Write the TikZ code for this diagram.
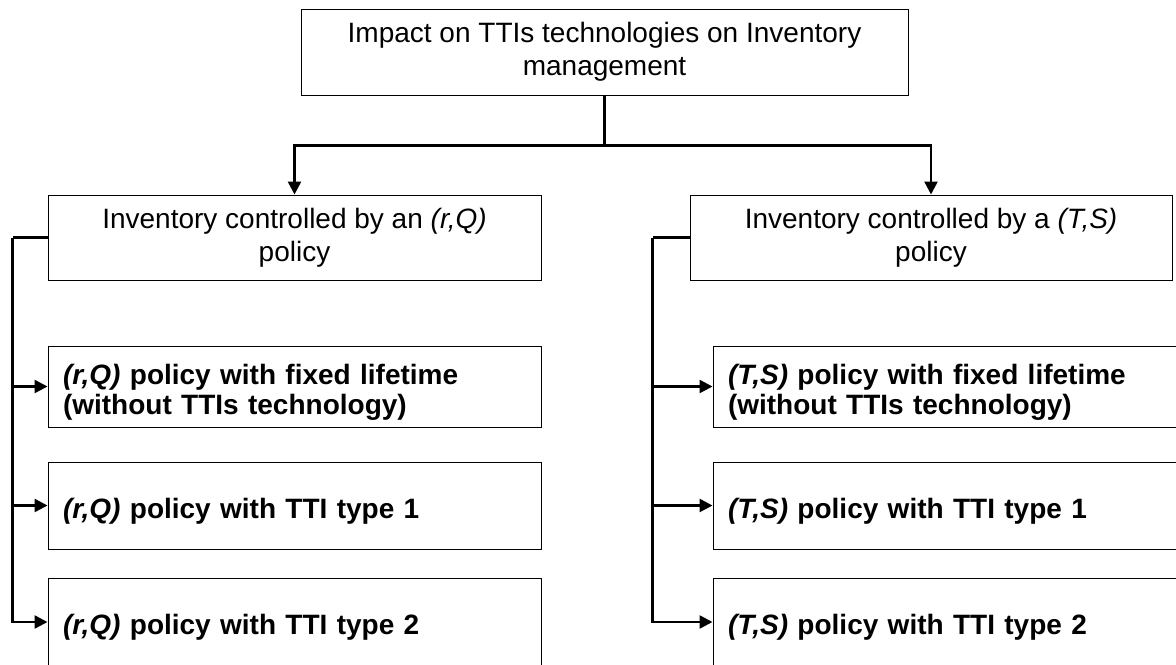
\documentclass[tikz,border=0pt]{standalone}
\usepackage{fontspec}
\setmainfont{Liberation Sans}
\usetikzlibrary{positioning, arrows.meta}
\tikzstyle{heading} = [rectangle, minimum width=303.5pt, minimum height=43pt, align=center, draw=black, line width=0.5pt, inner sep=0pt]
\tikzstyle{policy} = [rectangle, minimum height=42.5pt, align=center, draw=black, line width=0.5pt, inner sep=0pt]
\tikzstyle{variant} = [rectangle, text width=231.5pt, align=left, draw=black, line width=0.5pt, inner xsep=7.5pt, inner ysep=0pt, font=\fontsize{14pt}{15pt}\selectfont\bfseries, execute at begin node=\rule{0pt}{15.5pt}]
\tikzstyle{link} = [line width=1.25pt]
\tikzstyle{arrow} = [line width=1.25pt,->,>={Triangle[length=6.5pt,width=6.5pt]}]

\begin{document}
\begin{tikzpicture}[x=0.5pt, y=-0.5pt, font=\fontsize{14pt}{16.5pt}\selectfont]
  \clip (0,0) rectangle (1176,664);

  \node (top) [heading] at (604.5,52) {Impact on TTIs technologies on Inventory\\management};
  \node (rq) [policy, minimum width=246.5pt] at (294.5,237.5) {Inventory controlled by an \textit{(r,Q)}\\policy};
  \node (ts) [policy, minimum width=241pt] at (931,237.5) {Inventory controlled by a \textit{(T,S)}\\policy};

  \node (rq1) [variant, minimum height=40.5pt] at (294.5,386.5) {\textit{(r,Q)} policy with fixed lifetime\\(without TTIs technology)};
  \node (rq2) [variant, minimum height=43.5pt] at (294.5,505.5) {\textit{(r,Q)} policy with TTI type 1};
  \node (rq3) [variant, minimum height=44pt] at (294.5,622) {\textit{(r,Q)} policy with TTI type 2};

  \node (ts1) [variant, minimum height=40.5pt] at (959.5,386.5) {\textit{(T,S)} policy with fixed lifetime\\(without TTIs technology)};
  \node (ts2) [variant, minimum height=43.5pt] at (959.5,505.5) {\textit{(T,S)} policy with TTI type 1};
  \node (ts3) [variant, minimum height=44pt] at (959.5,622) {\textit{(T,S)} policy with TTI type 2};

  \draw [arrow] (top.south) -- ++(0,50) -| (rq.north);
  \draw [arrow] (top.south) -- ++(0,50) -| (ts.north);

  \draw [link] (rq.west) -- ++(-35,0) coordinate (rqbus);
  \draw [link] (ts.west) -- ++(-37,0) coordinate (tsbus);
  \foreach \n in {rq1,rq2,rq3}
    \draw [arrow] (rqbus) |- (\n.west);
  \foreach \n in {ts1,ts2,ts3}
    \draw [arrow] (tsbus) |- (\n.west);
\end{tikzpicture}
\end{document}
